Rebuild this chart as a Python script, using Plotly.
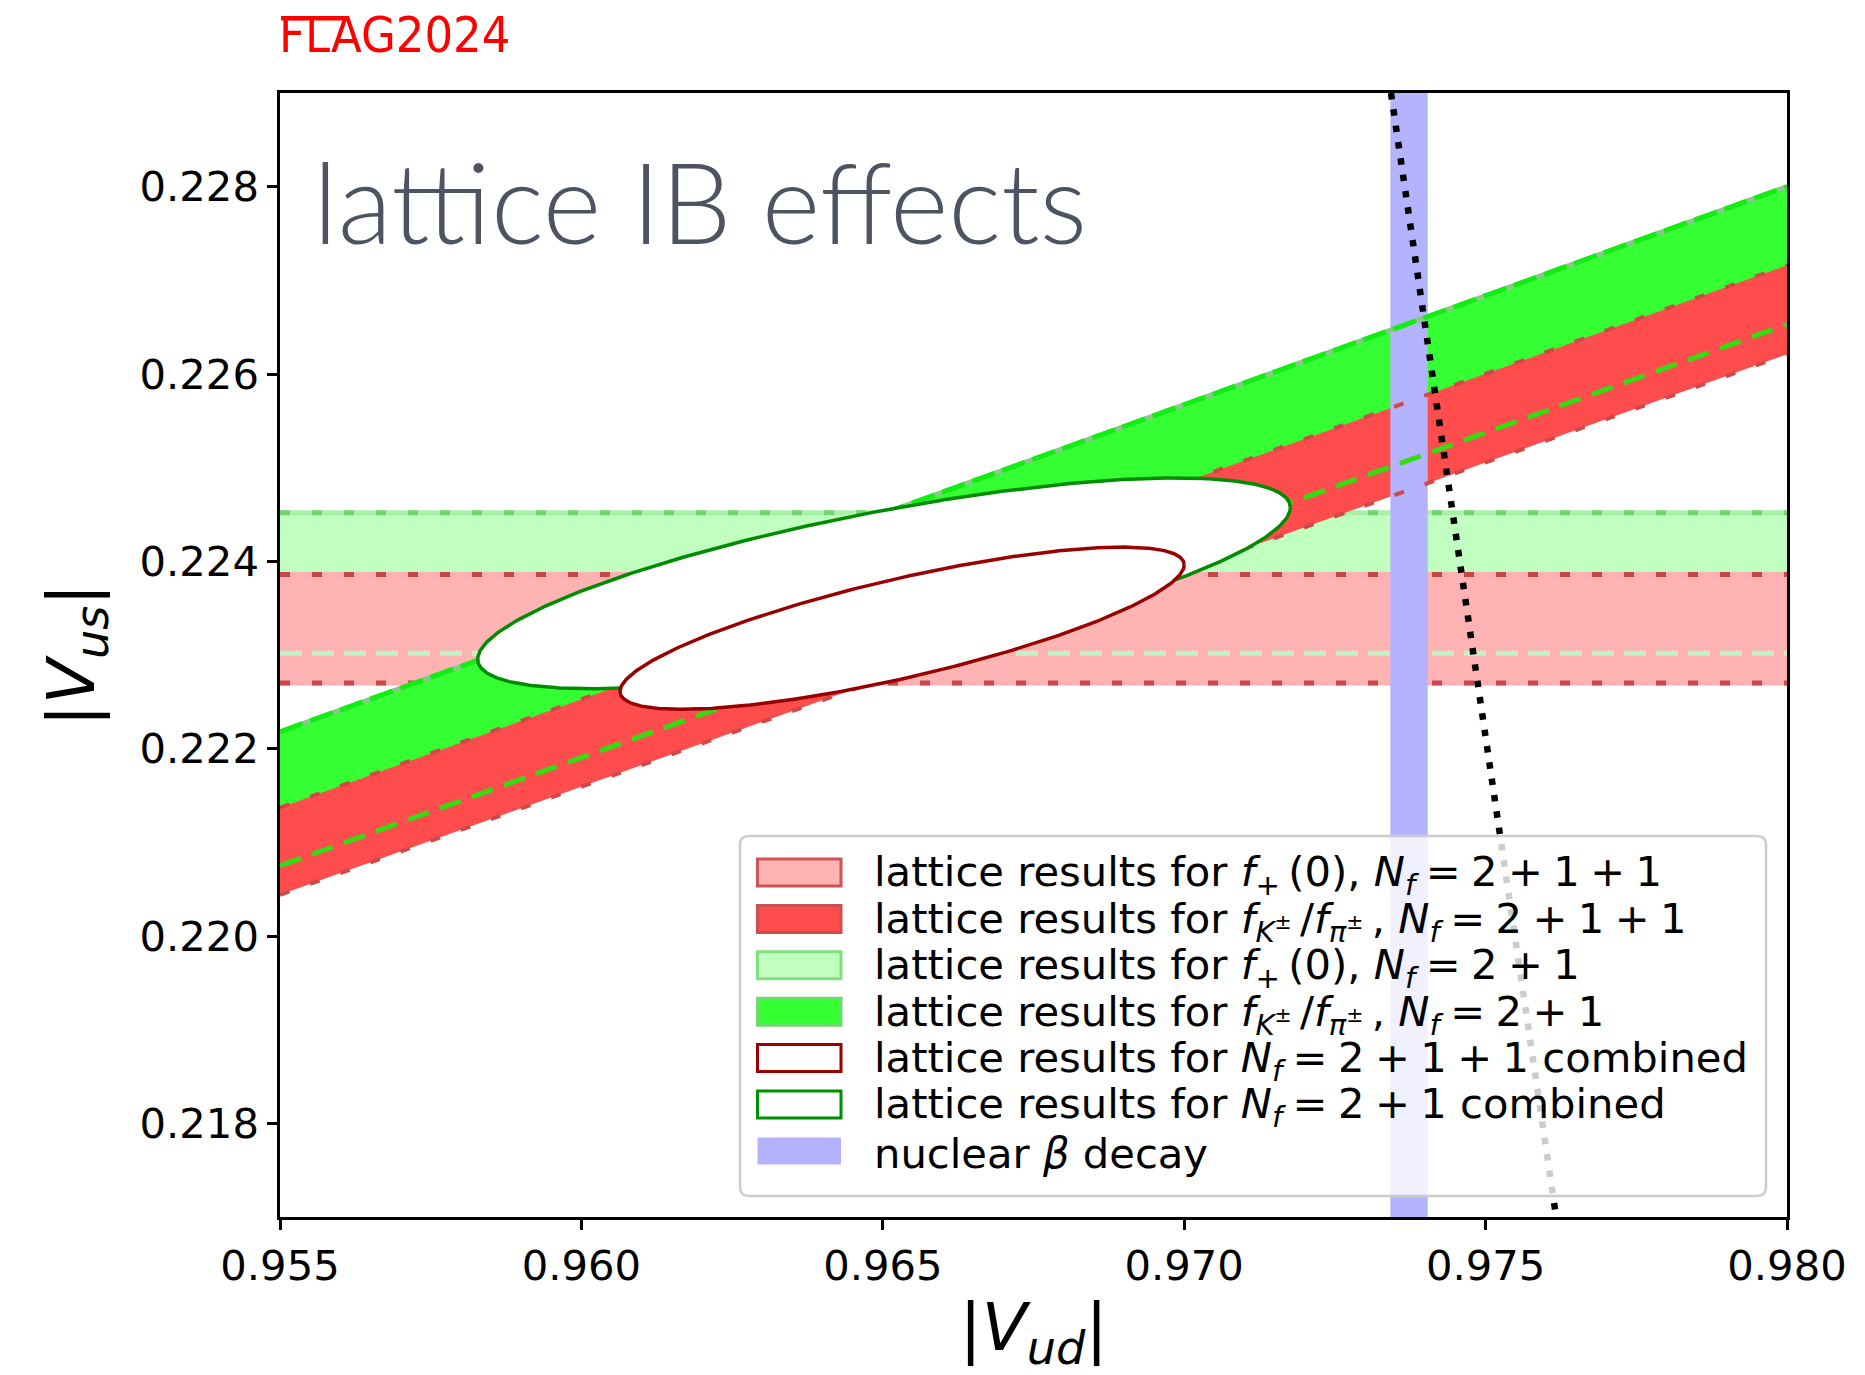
import numpy as np
import plotly.graph_objects as go

# ---------------- data ----------------
vud_range = [0.955, 0.980]
vus_range = [0.217, 0.229]
vud_ticks = [0.955, 0.960, 0.965, 0.970, 0.975, 0.980]
vus_ticks = [0.218, 0.220, 0.222, 0.224, 0.226, 0.228]

# |Vus| from f+(0): [low, high]
fplus_2111 = [0.22270, 0.22386]
fplus_21 = [0.22302, 0.22452]

# |Vus| edges of the fK/fpi bands, read at |Vud| = band_vud
band_vud = [0.955, 0.980]
fkfpi_2111_lo = [0.22044, 0.22621]
fkfpi_2111_hi = [0.22137, 0.22716]
fkfpi_21_lo = [0.22075, 0.22653]
fkfpi_21_hi = [0.22218, 0.22800]

# nuclear beta decay |Vud| band
beta_vud = [0.97342, 0.97404]

# first-row unitarity line (end points)
unit_vud = [0.97343, 0.97617]
unit_vus = [0.229, 0.217]

# combined fits: centre Vud, centre Vus, half-extent Vud, half-extent Vus, correlation
ell_2111 = [0.96532, 0.223286, 0.00468, 0.000866, 0.78]
ell_21 = [0.96502, 0.223765, 0.00674, 0.001125, 0.72]

SP = "\u2005"
TH = "\u2009"
FP = f"<i>f</i><sub>+</sub>{TH}(0)"
FKPI = f"<i>f</i><sub><i>K</i><sup>±</sup></sub>{TH}/<i>f</i><sub><i>π</i><sup>±</sup></sub>{TH}"
NF = "<i>N</i><sub><i>f</i></sub>"
legend_labels = [
    f"lattice results for {FP}, {NF}{SP}={SP}2{SP}+{SP}1{SP}+{SP}1",
    f"lattice results for {FKPI}, {NF}{SP}={SP}2{SP}+{SP}1{SP}+{SP}1",
    f"lattice results for {FP}, {NF}{SP}={SP}2{SP}+{SP}1",
    f"lattice results for {FKPI}, {NF}{SP}={SP}2{SP}+{SP}1",
    f"lattice results for {NF}{SP}={SP}2{SP}+{SP}1{SP}+{SP}1 combined",
    f"lattice results for {NF}{SP}={SP}2{SP}+{SP}1 combined",
    "nuclear <i>β</i> decay",
]

# ---------------- styles ----------------
C_HRED = "#ffb3b3"
C_HGREEN = "#c0ffc0"
C_SRED = "#ff4c4c"
C_SGREEN = "#33ff33"
C_BLUE = "#b3b3ff"

W, H = 1865, 1375
L, R, T, B = 280, 78, 93, 158
PW, PH = W - L - R, H - T - B


def px(xp):
    return (xp - L) / PW


def py(yp):
    return (H - B - yp) / PH


fig = go.Figure()


def fill_poly(x, y, color):
    fig.add_trace(go.Scatter(x=x, y=y, mode="lines", fill="toself", fillcolor=color,
                             line=dict(width=0, color=color), hoverinfo="skip", showlegend=False))


def line(x, y, color, width, dash="solid"):
    fig.add_trace(go.Scatter(x=x, y=y, mode="lines",
                             line=dict(color=color, width=width, dash=dash),
                             hoverinfo="skip", showlegend=False))


x0, x1 = vud_range

# horizontal f+(0) bands
fill_poly([x0, x1, x1, x0, x0], [fplus_21[0], fplus_21[0], fplus_21[1], fplus_21[1], fplus_21[0]], C_HGREEN)
line([x0, x1], [fplus_21[1]] * 2, "#a8f2a8", 5)
line([x0, x1], [fplus_21[1]] * 2, "#72d472", 5, "10px,22px")
fill_poly([x0, x1, x1, x0, x0], [fplus_2111[0], fplus_2111[0], fplus_2111[1], fplus_2111[1], fplus_2111[0]], C_HRED)
for v in fplus_2111:
    line([x0, x1], [v, v], "#ffb0b0", 5)
    line([x0, x1], [v, v], "#c84848", 5, "10px,22px")
line([x0, x1], [fplus_21[0]] * 2, "#c4f2c4", 5, "22px,10px")

# slanted fK/fpi bands
bx = band_vud
fill_poly([bx[0], bx[1], bx[1], bx[0], bx[0]],
          [fkfpi_21_lo[0], fkfpi_21_lo[1], fkfpi_21_hi[1], fkfpi_21_hi[0], fkfpi_21_lo[0]], C_SGREEN)
fill_poly([bx[0], bx[1], bx[1], bx[0], bx[0]],
          [fkfpi_2111_lo[0], fkfpi_2111_lo[1], fkfpi_2111_hi[1], fkfpi_2111_hi[0], fkfpi_2111_lo[0]], C_SRED)

# nuclear beta decay band
fill_poly([beta_vud[0], beta_vud[1], beta_vud[1], beta_vud[0], beta_vud[0]],
          [vus_range[0] - 1, vus_range[0] - 1, vus_range[1] + 1, vus_range[1] + 1, vus_range[0] - 1], C_BLUE)

# slanted band edges
for e in (fkfpi_2111_lo, fkfpi_2111_hi):
    line(bx, e, "#d04848", 4, "10px,22px")
line(bx, fkfpi_21_hi, "#86c886", 5)
line(bx, fkfpi_21_hi, "#11ee11", 5, "24px,8px")
line(bx, fkfpi_21_lo, "#33dd11", 5, "22px,12px")

# combined ellipses
t = np.linspace(0, 2 * np.pi, 500)
for ell, col in ((ell_21, "#008c00"), (ell_2111, "#990000")):
    cx, cy, hx, hy, rho = ell
    ex = cx + hx * np.cos(t)
    ey = cy + hy * (rho * np.cos(t) + np.sqrt(1 - rho ** 2) * np.sin(t))
    fig.add_trace(go.Scatter(x=ex, y=ey, mode="lines", fill="toself", fillcolor="white",
                             line=dict(color=col, width=3.5), hoverinfo="skip", showlegend=False))

# unitarity
line(unit_vud, unit_vus, "black", 6.5, "6.5px,10px")

# ---------------- legend (drawn by hand) ----------------
shapes = []
lb_l, lb_r, lb_t, lb_b, rad = 740, 1766, 836, 1196, 9
rx, ry = rad / PW, rad / PH
Lp, Rp, Tp, Bp = px(lb_l), px(lb_r), py(lb_t), py(lb_b)
path = (f"M{Lp+rx},{Tp} L{Rp-rx},{Tp} Q{Rp},{Tp} {Rp},{Tp-ry} L{Rp},{Bp+ry} Q{Rp},{Bp} {Rp-rx},{Bp} "
        f"L{Lp+rx},{Bp} Q{Lp},{Bp} {Lp},{Bp+ry} L{Lp},{Tp-ry} Q{Lp},{Tp} {Lp+rx},{Tp} Z")
shapes.append(dict(type="path", path=path, xref="paper", yref="paper", layer="above",
                   fillcolor="rgba(255,255,255,0.8)", line=dict(color="#cccccc", width=2.5)))

swatches = [
    (C_HRED, "#cc5555"),
    (C_SRED, "#cc5050"),
    (C_HGREEN, "#80e080"),
    (C_SGREEN, "#70d870"),
    ("white", "#990000"),
    ("white", "#009000"),
    (C_BLUE, None),
]
row0, drow = 872.5, 46.4
annotations = []
for i, (lab, (fc, ec)) in enumerate(zip(legend_labels, swatches)):
    yc = row0 + i * drow
    shapes.append(dict(type="rect", xref="paper", yref="paper", layer="above",
                       x0=px(757.5), x1=px(841), y0=py(yc - 13.5), y1=py(yc + 13.5),
                       fillcolor=fc, line=dict(color=ec if ec else fc, width=3 if ec else 0)))
    annotations.append(dict(text=lab, x=px(872), y=py(yc + 2.4), xref="paper", yref="paper",
                            xanchor="left", yanchor="middle", showarrow=False,
                            font=dict(family="DejaVu Sans", size=41.7, color="black")))

# FLAG logo
annotations.append(dict(text="FLAG2024", x=px(277), y=py(34.7), xref="paper", yref="paper",
                        xanchor="left", yanchor="middle", showarrow=False,
                        font=dict(family="DejaVu Sans Condensed", size=50, color="red")))
shapes.append(dict(type="line", xref="paper", yref="paper", x0=px(281), x1=px(348),
                   y0=py(18.3), y1=py(18.3), line=dict(color="red", width=4.5)))

annotations.append(dict(text="lattice IB effects", x=px(311), y=py(200), xref="paper", yref="paper",
                        xanchor="left", yanchor="middle", showarrow=False,
                        font=dict(family="Lato", size=112, color="#4d5360", weight=300)))

axis_common = dict(showgrid=False, zeroline=False, showline=True, linecolor="black", linewidth=2.5,
                   mirror=True, ticks="outside", ticklen=10, tickwidth=2.5, tickcolor="black",
                   tickfont=dict(family="DejaVu Sans", size=41.7, color="black"), automargin=False)

fig.update_layout(
    width=W, height=H,
    margin=dict(l=L, r=R, t=T, b=B),
    paper_bgcolor="white", plot_bgcolor="white",
    showlegend=False,
    xaxis=dict(range=vud_range, tickvals=vud_ticks, ticktext=[f"{v:.3f}" for v in vud_ticks],
               title=dict(text="|<i>V</i><sub><i>ud</i></sub>|", standoff=21,
                          font=dict(family="DejaVu Sans", size=66, color="black")),
               **axis_common),
    yaxis=dict(range=vus_range, tickvals=vus_ticks, ticktext=[f"{v:.3f}" for v in vus_ticks],
               title=dict(text="|<i>V</i><sub><i>us</i></sub>|", standoff=24,
                          font=dict(family="DejaVu Sans", size=66, color="black")),
               **axis_common),
    shapes=shapes,
    annotations=annotations,
)

fig.write_html("out.html")
